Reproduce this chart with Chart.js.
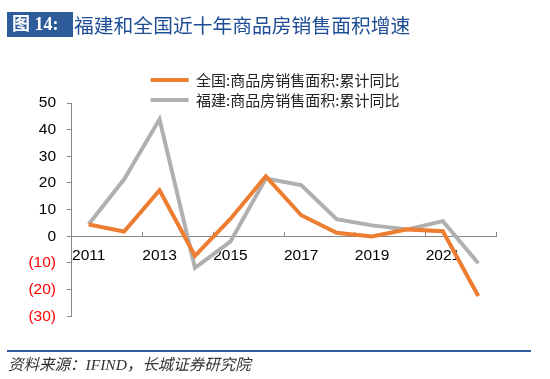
<!DOCTYPE html>
<html><head><meta charset="utf-8">
<script src="https://cdn.jsdelivr.net/npm/chart.js@4"></script>
<style>
html,body{margin:0;padding:0;background:#fff;width:550px;height:379px;overflow:hidden;position:relative;}
#c{position:absolute;left:0;top:0;}
#title{position:absolute;left:7px;top:12px;height:25px;display:flex;align-items:center;white-space:nowrap;}
#tag{background:#2e5b9a;color:#fff;font:bold 18px "Liberation Serif","Noto Sans CJK SC";height:25px;line-height:25px;width:66px;box-sizing:border-box;padding-left:5px;}
#ttext{color:#1f4e96;font:19.8px "Noto Sans CJK SC";margin-left:1px;line-height:25px;}
#rule{position:absolute;left:7px;top:350px;width:524px;height:2px;background:#2e5b9a;}
#src{position:absolute;left:8px;top:352px;font:italic 15.5px "Liberation Serif","Noto Sans CJK SC";color:#333;white-space:nowrap;}
</style></head>
<body>
<canvas id="c" width="550" height="379"></canvas>
<div id="title"><span id="tag">图 14:</span><span id="ttext">福建和全国近十年商品房销售面积增速</span></div>
<div id="rule"></div>
<div id="src">资料来源：IFIND，长城证券研究院</div>
<script>
const years = ['2011','2012','2013','2014','2015','2016','2017','2018','2019','2020','2021','2022'];
const nationalLabel = '全国:商品房销售面积:累计同比';
const fujianLabel = '福建:商品房销售面积:累计同比';
const national = [4.4, 1.8, 17.3, -7.3, 6.5, 22.5, 7.9, 1.3, -0.1, 2.6, 1.9, -22.4];
const fujian = [4.5, 21.4, 43.9, -11.8, -2.0, 21.7, 19.2, 6.4, 4.1, 2.6, 5.7, -10.1];
const yTicks = [50, 40, 30, 20, 10, 0, -10, -20, -30];

const legendFit = {
  id: 'legendFit',
  beforeInit(chart) {
    const lg = chart.legend;
    const orig = lg.fit;
    lg.fit = function () {
      const mw = this.maxWidth;
      this.maxWidth = 300;
      orig.call(this);
      this.maxWidth = mw;
    };
  },
  afterLayout(chart) {
    const lg = chart.legend;
    lg.left = 0;
    lg.right = chart.width;
    lg.width = chart.width;
    lg.top += 14.5;
    lg.bottom += 14.5;
  }
};

const xTicksUp = {
  id: 'xTicksUp',
  beforeDatasetsDraw(chart) {
    const xs = chart.scales.x, ys = chart.scales.y;
    const y0 = ys.getPixelForValue(0);
    const ctx = chart.ctx;
    ctx.save();
    ctx.strokeStyle = '#888';
    ctx.lineWidth = 1;
    for (let i = 0; i <= years.length; i += 2) {
      const px = Math.round(xs.getPixelForValue(i - 0.5)) + 0.5;
      ctx.beginPath();
      ctx.moveTo(px, Math.round(y0));
      ctx.lineTo(px, Math.round(y0) - 4);
      ctx.stroke();
    }
    ctx.restore();
  }
};

new Chart(document.getElementById('c'), {
  type: 'line',
  data: {
    labels: years,
    datasets: [
      { label: nationalLabel, data: national, borderColor: '#ed7d31', backgroundColor: '#ed7d31', borderWidth: 4, pointRadius: 0, tension: 0 },
      { label: fujianLabel, data: fujian, borderColor: '#b0b0b0', backgroundColor: '#b0b0b0', borderWidth: 4, pointRadius: 0, tension: 0 }
    ]
  },
  options: {
    responsive: false,
    animation: false,
    devicePixelRatio: 1,
    layout: { padding: { left: 0, right: 54, top: 53, bottom: 62.7 } },
    plugins: {
      tooltip: { enabled: false },
      legend: {
        position: 'top',
        align: 'center',
        labels: {
          usePointStyle: true,
          pointStyle: 'line',
          pointStyleWidth: 38,
          boxHeight: 15,
          padding: 5,
          color: '#222',
          font: { family: '"Noto Sans CJK SC", "Liberation Sans"', size: 15 }
        }
      }
    },
    scales: {
      x: {
        type: 'category',
        offset: true,
        position: { y: 0 },
        grid: { display: true, drawOnChartArea: false, drawTicks: false, offset: true },
        border: { display: true, color: '#888', width: 1 },
        ticks: {
          autoSkip: false, maxRotation: 0, padding: 10,
          color: '#000',
          font: { family: '"Liberation Sans", Arial', size: 15.5 },
          callback: (v, i) => (i % 2 === 0 ? years[i] : '')
        }
      },
      y: {
        min: -30, max: 50,
        afterBuildTicks: (s) => { s.ticks = yTicks.map(v => ({ value: v })); },
        afterFit: (s) => { s.width = 71; },
        grid: { drawOnChartArea: false, drawTicks: true, tickLength: 4, tickColor: '#888' },
        border: { display: true, color: '#888', width: 1 },
        ticks: {
          padding: 11,
          color: (c) => (c.tick && c.tick.value < 0 ? '#ff0000' : '#000'),
          font: { family: '"Liberation Sans", Arial', size: 15.5 },
          callback: (v) => (v < 0 ? '(' + (-v) + ')' : String(v))
        }
      }
    }
  },
  plugins: [legendFit, xTicksUp]
});
</script>
</body></html>
